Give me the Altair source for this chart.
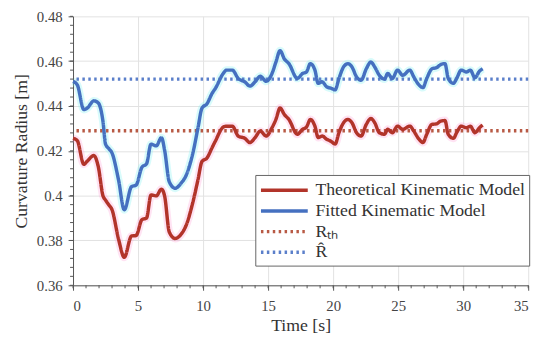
import altair as alt
import pandas as pd

# ---- data ----
time_s = [0, 0.33, 0.83, 1.1, 1.6, 1.95, 2.3, 2.5, 2.75, 3.0, 3.5, 3.94, 4.5, 4.85, 5.3, 5.65,
          6.0, 6.4, 6.8, 7.05, 7.4, 7.85, 8.3, 8.7, 9.2, 9.6, 9.92, 10.3, 10.7, 10.95, 11.55,
          11.8, 12.25, 12.7, 13.2, 13.6, 14.0, 14.4, 14.85, 15.3, 15.6, 15.92, 16.25, 16.6,
          17.25, 17.65, 17.95, 18.25, 18.6, 18.85, 19.15, 19.5, 19.85, 20.15, 20.45, 20.8,
          21.15, 21.45, 21.8, 22.15, 22.55, 22.9, 23.2, 23.55, 23.95, 24.2, 24.55, 24.95,
          25.35, 25.9, 26.2, 26.6, 26.9, 27.2, 27.6, 27.95, 28.25, 28.6, 28.85, 29.25, 29.5,
          29.85, 30.25, 30.55, 30.9, 31.25, 31.5]

fitted = [0.451, 0.4494, 0.4384, 0.4391, 0.4423, 0.4413, 0.4332, 0.423, 0.421, 0.419, 0.407,
          0.3937, 0.404, 0.4047, 0.4127, 0.4142, 0.423, 0.4222, 0.4259, 0.420, 0.4062, 0.4033,
          0.4055, 0.4091, 0.4186, 0.430, 0.4391, 0.441, 0.4457, 0.4479, 0.4545, 0.456, 0.456,
          0.4523, 0.4508, 0.4489, 0.4508, 0.4533, 0.451, 0.4545, 0.4596, 0.4647, 0.461, 0.4589,
          0.4523, 0.4545, 0.4552, 0.4589, 0.456, 0.4501, 0.4508, 0.4486, 0.4479, 0.4472, 0.4523,
          0.4574, 0.4589, 0.4574, 0.453, 0.4515, 0.4566, 0.4596, 0.4574, 0.4537, 0.452, 0.4545,
          0.4523, 0.456, 0.4537, 0.456, 0.453, 0.4494, 0.4482, 0.4523, 0.4566, 0.4571, 0.4584,
          0.4589, 0.4523, 0.4501, 0.4523, 0.456, 0.4552, 0.456, 0.4526, 0.4555, 0.4566]

theoretical = [0.4256, 0.4245, 0.414, 0.4154, 0.4179, 0.4127, 0.400, 0.398, 0.3959, 0.3937,
               0.3806, 0.3725, 0.382, 0.3822, 0.3893, 0.390, 0.4003, 0.3999, 0.4029, 0.3996,
               0.3838, 0.3809, 0.3827, 0.3868, 0.3967, 0.4069, 0.4153, 0.4168, 0.4215, 0.4244,
               0.4306, 0.431, 0.431, 0.4266, 0.4256, 0.4237, 0.4259, 0.4288, 0.4266, 0.4303,
               0.434, 0.4391, 0.4362, 0.434, 0.4274, 0.4296, 0.4306, 0.434, 0.431, 0.4259,
               0.4266, 0.4252, 0.4242, 0.423, 0.4281, 0.4325, 0.434, 0.4325, 0.4281, 0.4266,
               0.4318, 0.4344, 0.4325, 0.4281, 0.4274, 0.4296, 0.4281, 0.431, 0.4296, 0.431,
               0.4288, 0.4252, 0.4237, 0.4274, 0.4318, 0.432, 0.4332, 0.4335, 0.4274, 0.4256,
               0.4281, 0.431, 0.4303, 0.431, 0.4281, 0.4303, 0.4315]

r_th = 0.429
r_hat = 0.452

series_names = ["Theoretical Kinematic Model", "Fitted Kinematic Model", "Rₜₕ", "R̂"]
series_colors = ["#b2342a", "#4570c0", "#b85a45", "#5b7fca"]

x_ticks = [0, 5, 10, 15, 20, 25, 30, 35]
y_ticks = [0.36, 0.38, 0.40, 0.42, 0.44, 0.46, 0.48]
x_minor = [v for v in range(0, 36)]
y_minor = [round(0.36 + 0.004 * i, 3) for i in range(31)]

# ---- tables ----
lines = pd.concat([
    pd.DataFrame({"t": time_s, "r": theoretical, "series": series_names[0]}),
    pd.DataFrame({"t": time_s, "r": fitted, "series": series_names[1]}),
])
refs = pd.DataFrame({"r": [r_th, r_hat], "series": series_names[2:]})

FONT = "Liberation Serif"
xs = alt.Scale(domain=[0, 35], nice=False)
ys = alt.Scale(domain=[0.36, 0.48], nice=False)

color = alt.Color("series:N", scale=alt.Scale(domain=series_names, range=series_colors),
                  legend=alt.Legend(title=None, orient="none", legendX=185, legendY=161,
                                    symbolType="M-2.5,0H2.5", symbolSize=361,
                                    symbolOffset=14, labelOffset=20,
                                    labelFont=FONT, labelFontSize=18, labelColor="#333",
                                    strokeColor="#666", fillColor="white", padding=4,
                                    rowPadding=0, labelLimit=400))
dash = alt.StrokeDash("series:N", scale=alt.Scale(domain=series_names,
                      range=[[1, 0], [1, 0], [2.5, 3.5], [2.5, 3.5]]), legend=alt.Legend(title=None))
width = alt.StrokeWidth("series:N", scale=alt.Scale(domain=series_names, range=[3.5, 3.5, 2.2, 2.2]),
                        legend=alt.Legend(title=None))

x_enc = alt.X("t:Q", scale=xs,
              axis=alt.Axis(values=x_ticks, title="Time [s]", format="d"))
y_enc = alt.Y("r:Q", scale=ys,
              axis=alt.Axis(values=y_ticks, title="Curvature Radius [m]",
                            labelExpr="datum.value == 0.4 ? '0.4' : format(datum.value, '.2f')"))

theo_df = lines[lines.series == series_names[0]]
fit_df = lines[lines.series == series_names[1]]

halo_red = alt.Chart(theo_df).mark_line(color="#ff8fd0", strokeWidth=8, opacity=0.25,
                                        interpolate="monotone").encode(x=x_enc, y=y_enc)
halo_blue = alt.Chart(fit_df).mark_line(color="#7ff2f2", strokeWidth=8, opacity=0.3,
                                        interpolate="monotone").encode(x=x_enc, y=y_enc)

main = alt.Chart(lines).mark_line(interpolate="monotone").encode(
    x=x_enc, y=y_enc, color=color, strokeDash=dash, strokeWidth=width,
    detail="series:N")

ref_rules = alt.Chart(refs).mark_rule().encode(
    y=alt.Y("r:Q", scale=ys), color=color, strokeDash=dash, strokeWidth=width)

xminor = alt.Chart(pd.DataFrame({"t": x_minor})).mark_rule(color="#555", strokeWidth=1).encode(
    x=alt.X("t:Q", scale=xs), y=alt.value(273), y2=alt.value(276))
yminor = alt.Chart(pd.DataFrame({"r": y_minor})).mark_rule(color="#555", strokeWidth=1).encode(
    y=alt.Y("r:Q", scale=ys), x=alt.value(-3), x2=alt.value(0))

chart = alt.layer(halo_red, halo_blue, ref_rules, main, xminor, yminor).properties(
    width=462, height=273,
    padding={"left": 66, "top": 6, "right": 14, "bottom": 50},
    autosize=alt.AutoSizeParams(type="none"),
).configure_axis(
    labelFont=FONT, labelFontSize=15, labelColor="#444",
    titleFont=FONT, titleFontSize=18, titleFontWeight="normal", titleColor="#333",
    gridColor="#e2e2e2", gridWidth=1, domainColor="#555", tickColor="#555",
    tickSize=5,
).configure_axisX(labelPadding=9, titlePadding=3
).configure_axisY(labelPadding=6, titlePadding=6
).configure_view(strokeWidth=0)

chart.save("out.html", embed_options={"renderer": "svg", "actions": False})
